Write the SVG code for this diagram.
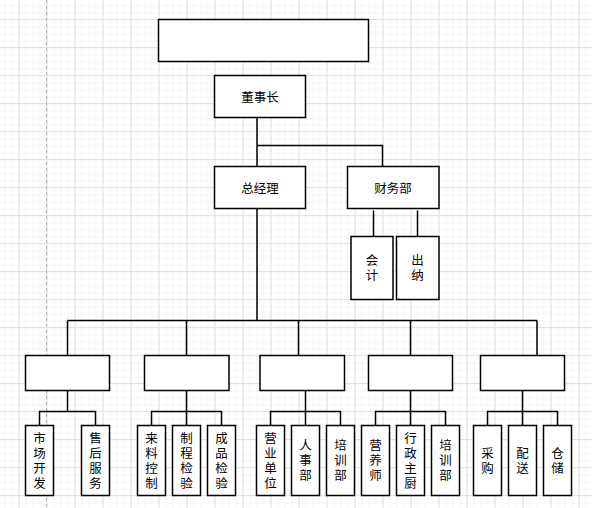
<svg xmlns="http://www.w3.org/2000/svg" width="592" height="508" viewBox="0 0 592 508">
<style>
.box{fill:#fff;stroke:#000;stroke-width:1.5}
.ln{fill:none;stroke:#000;stroke-width:1.5}
text{font-family:"Noto Sans CJK SC","Noto Sans",sans-serif;font-size:12.5px;fill:#000;text-anchor:middle;dominant-baseline:central}
.v{writing-mode:vertical-rl;text-orientation:upright;letter-spacing:2.5px;dominant-baseline:central}
</style>
<defs>
<pattern id="minor" x="18.5" y="19.5" width="7" height="7" patternUnits="userSpaceOnUse">
<path d="M0 0.5H7M0.5 0V7" stroke="#f4f4f4" stroke-width="1" fill="none"/>
</pattern>
<pattern id="major" x="18.5" y="19" width="28" height="28" patternUnits="userSpaceOnUse">
<path d="M0 0.5H28M0.5 0V28" stroke="#e3e3e3" stroke-width="1" fill="none"/>
</pattern>
</defs>
<rect width="592" height="508" fill="#fff"/>
<rect width="592" height="508" fill="url(#minor)"/>
<rect width="592" height="508" fill="url(#major)"/>
<line x1="46.5" y1="0" x2="46.5" y2="508" stroke="#b0b0b0" stroke-width="1" stroke-dasharray="3,3"/>

<g id="connectors" class="ln">
<path d="M257 117.5V166.5M257 145.5H382.5V166.5"/>
<path d="M373.5 210.5V236.5M417.5 210.5V236.5"/>
<path d="M257 208.5V320.5M67.5 320.5H537M67.5 320.5V355.5M186.5 320.5V355.5M298.5 320.5V355.5M410.5 320.5V355.5M537 320.5V355.5"/>
<path d="M67.5 390.5V411.5M39.5 425.5V411.5H95.5V425.5"/>
<path d="M186.5 390.5V425.5M151.5 425.5V411.5H221.5V425.5"/>
<path d="M305.5 390.5V425.5M270.5 425.5V411.5H340.5V425.5"/>
<path d="M410.5 390.5V425.5M375.5 425.5V411.5H445.5V425.5"/>
<path d="M522.5 390.5V425.5M487.5 425.5V411.5H557.5V425.5"/>
</g>

<g id="top"><rect class="box" x="158.5" y="19.5" width="210" height="42"/></g>
<g id="dongshizhang"><rect class="box" x="214.5" y="75.5" width="91" height="42"/><text x="260" y="96.5">董事长</text></g>
<g id="zongjingli"><rect class="box" x="214.5" y="166.5" width="91" height="42"/><text x="260" y="187.5">总经理</text></g>
<g id="caiwubu"><rect class="box" x="347.5" y="166.5" width="91.5" height="42"/><text x="393" y="187.5">财务部</text></g>
<g id="kuaiji"><rect class="box" x="351" y="236.5" width="42" height="63"/><text class="v" x="372" y="269.25">会计</text></g>
<g id="chuna"><rect class="box" x="396.5" y="236.5" width="42.5" height="63"/><text class="v" x="417.5" y="269.25">出纳</text></g>

<g id="dept1"><rect class="box" x="25.5" y="355.5" width="84" height="35"/></g>
<g id="dept2"><rect class="box" x="144.5" y="355.5" width="84.5" height="35"/></g>
<g id="dept3"><rect class="box" x="260" y="355.5" width="84.5" height="35"/></g>
<g id="dept4"><rect class="box" x="368.5" y="355.5" width="84" height="35"/></g>
<g id="dept5"><rect class="box" x="480.5" y="355.5" width="84" height="35"/></g>

<g id="shichangkaifa"><rect class="box" x="25.5" y="425.5" width="28" height="70"/><text class="v" x="39.5" y="461.75">市场开发</text></g>
<g id="shouhoufuwu"><rect class="box" x="81.5" y="425.5" width="28" height="70"/><text class="v" x="95.5" y="461.75">售后服务</text></g>
<g id="lailiaokongzhi"><rect class="box" x="137.5" y="425.5" width="28" height="70"/><text class="v" x="151.5" y="461.75">来料控制</text></g>
<g id="zhichengjianyan"><rect class="box" x="172.5" y="425.5" width="28" height="70"/><text class="v" x="186.5" y="461.75">制程检验</text></g>
<g id="chengpinjianyan"><rect class="box" x="207.5" y="425.5" width="28" height="70"/><text class="v" x="221.5" y="461.75">成品检验</text></g>
<g id="yingyedanwei"><rect class="box" x="256.5" y="425.5" width="28" height="70"/><text class="v" x="270.5" y="461.75">营业单位</text></g>
<g id="renshibu"><rect class="box" x="291.5" y="425.5" width="28" height="70"/><text class="v" x="305.5" y="461.75">人事部</text></g>
<g id="peixunbu1"><rect class="box" x="326.5" y="425.5" width="28" height="70"/><text class="v" x="340.5" y="461.75">培训部</text></g>
<g id="yingyangshi"><rect class="box" x="361.5" y="425.5" width="28" height="70"/><text class="v" x="375.5" y="461.75">营养师</text></g>
<g id="xingzhengzhuchu"><rect class="box" x="396.5" y="425.5" width="28" height="70"/><text class="v" x="410.5" y="461.75">行政主厨</text></g>
<g id="peixunbu2"><rect class="box" x="431.5" y="425.5" width="28" height="70"/><text class="v" x="445.5" y="461.75">培训部</text></g>
<g id="caigou"><rect class="box" x="473.5" y="425.5" width="28" height="70"/><text class="v" x="487.5" y="461.75">采购</text></g>
<g id="peisong"><rect class="box" x="508.5" y="425.5" width="28" height="70"/><text class="v" x="522.5" y="461.75">配送</text></g>
<g id="cangchu"><rect class="box" x="543.5" y="425.5" width="28" height="70"/><text class="v" x="557.5" y="461.75">仓储</text></g>
</svg>
